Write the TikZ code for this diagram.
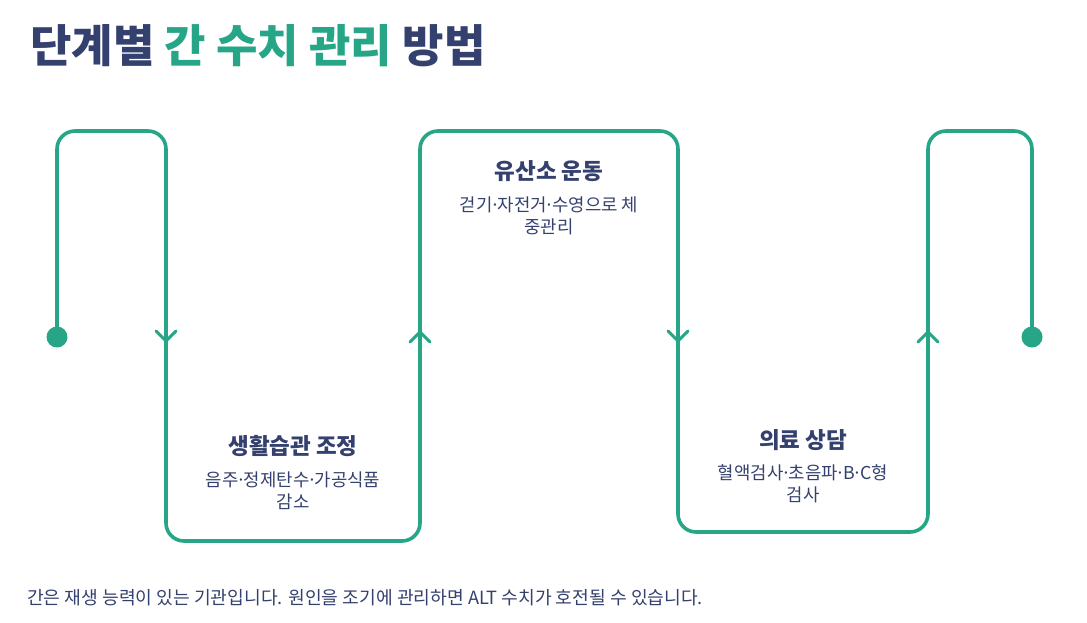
\documentclass[tikz,border=0pt]{standalone}
\usepackage{fontspec}
\setmainfont{Noto Sans CJK KR}
\definecolor{navy}{HTML}{34406E}
\definecolor{teal}{HTML}{27A687}
\newcommand{\md}{\makebox[0.3em]{·}}
\begin{document}
\begin{tikzpicture}[x=1pt,y=-1pt,
  wire/.style={draw=teal,line width=3.6pt,rounded corners=18pt,line join=round},
  chev/.style={draw=teal,line width=3pt,line cap=round,line join=miter},
  enddot/.style={circle,fill=teal,minimum size=21pt,inner sep=0pt},
  steptitle/.style={text=navy,font=\fontsize{22.5}{26}\selectfont\bfseries,anchor=center},
  stepsub/.style={text=navy,font=\fontsize{17.8}{22}\selectfont,align=center,anchor=center}]
\useasboundingbox (0,0) rectangle (1087,622);
\node[anchor=west,text=navy,font=\fontsize{45}{50}\selectfont\bfseries,inner sep=0pt] (title) at (30,46) {단계별 \textcolor{teal}{간 수치 관리} 방법};
\node[enddot] (s) at (57,337) {};
\node[enddot] (e) at (1032,337) {};
\draw[wire] (s.center) -- (57,131) -- (166,131) -- (166,541) -- (420,541) -- (420,131) -- (678,131) -- (678,532) -- (928,532) -- (928,131) -- (1032,131) -- (e.center);
% chevrons
\coordinate (c1) at (166,341);
\coordinate (c2) at (420,332);
\coordinate (c3) at (678,341);
\coordinate (c4) at (928,332);
\draw[chev] ([shift={(-10,-10)}]c1) -- (c1) -- ([shift={(10,-10)}]c1);
\draw[chev] ([shift={(-10,10)}]c2) -- (c2) -- ([shift={(10,10)}]c2);
\draw[chev] ([shift={(-10,-10)}]c3) -- (c3) -- ([shift={(10,-10)}]c3);
\draw[chev] ([shift={(-10,10)}]c4) -- (c4) -- ([shift={(10,10)}]c4);
% step texts
\node[steptitle] (t1) at (293,446) {생활습관 조정};
\node[stepsub] (d1) at (293,491) {음주\md 정제탄수\md 가공식품\\감소};
\node[steptitle] (t2) at (549,171) {유산소 운동};
\node[stepsub] (d2) at (549,216) {걷기\md 자전거\md 수영으로 체\\중관리};
\node[steptitle] (t3) at (803,440) {의료 상담};
\node[stepsub] (d3) at (803,484) {혈액검사\md 초음파\md B\md C형\\검사};
\node[anchor=west,text=navy,font=\fontsize{18.2}{22}\selectfont,inner sep=0pt] (foot) at (27,598) {간은 재생 능력이 있는 기관입니다. 원인을 조기에 관리하면 ALT 수치가 호전될 수 있습니다.};
\end{tikzpicture}
\end{document}
